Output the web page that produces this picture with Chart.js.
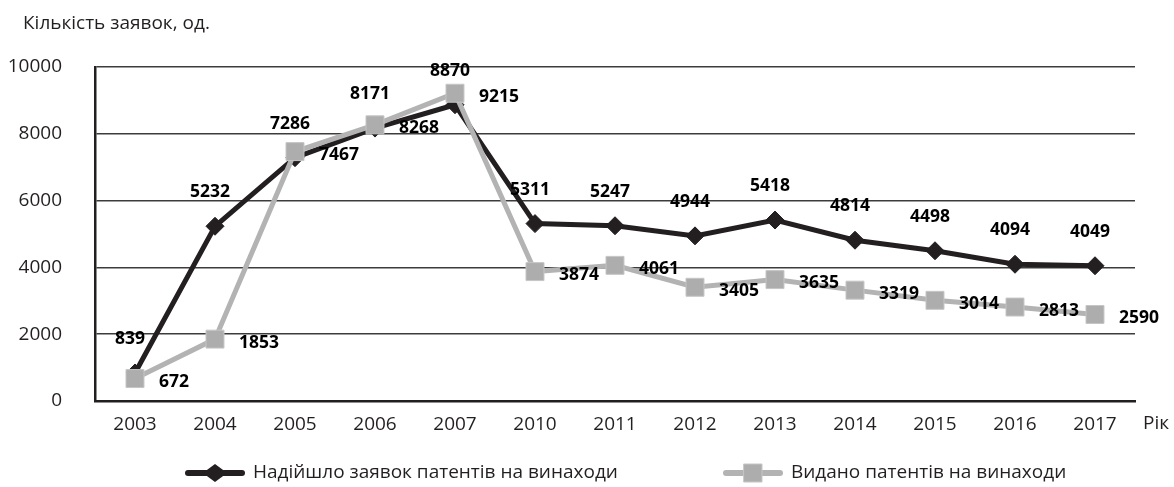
<!DOCTYPE html>
<html><head><meta charset="utf-8">
<script src="https://cdn.jsdelivr.net/npm/chart.js@4.4.0/dist/chart.umd.min.js"></script>
<style>html,body{margin:0;padding:0;background:#fff;} #wrap{width:1174px;height:487px;position:relative;}</style>
</head><body><div id="wrap"><canvas id="c"></canvas></div>
<script>
// ---- data ----
const years = ['2003','2004','2005','2006','2007','2010','2011','2012','2013','2014','2015','2016','2017'];
const applied = [839, 5232, 7286, 8171, 8870, 5311, 5247, 4944, 5418, 4814, 4498, 4094, 4049];
const granted = [672, 1853, 7467, 8268, 9215, 3874, 4061, 3405, 3635, 3319, 3014, 2813, 2590];
const yMin = 0, yMax = 10000, yStep = 2000;
const yAxisTitle = 'Кількість заявок, од.';
const xAxisTitle = 'Рік';
const seriesNames = ['Надійшло заявок патентів на винаходи', 'Видано патентів на винаходи'];

// ---- styles ----
const FONT = "'Open Sans', sans-serif";
const TEXT = '#231f20';
const BLACK = '#231f20';
const GREY = '#b3b3b3';

const labelPlugin = {
  id: 'valueLabels',
  afterDatasetsDraw(chart) {
    const ctx = chart.ctx;
    ctx.save();
    ctx.font = `bold 17.5px ${FONT}`;
    ctx.fillStyle = '#000';
    ctx.textBaseline = 'middle';
    chart.data.datasets.forEach((ds, i) => {
      const meta = chart.getDatasetMeta(i);
      const o = ds.labelOffset;
      ctx.textAlign = o.align;
      meta.data.forEach((pt, j) => {
        ctx.fillText(String(ds.data[j]), pt.x + o.dx, pt.y + o.dy);
      });
    });
    ctx.restore();
  }
};

function drawMarker(ctx, style, x, y, r, fill, stroke) {
  ctx.beginPath();
  if (style === 'rectRot') {
    ctx.moveTo(x - r * 1.35, y); ctx.lineTo(x, y - r); ctx.lineTo(x + r * 1.35, y); ctx.lineTo(x, y + r);
  } else {
    ctx.rect(x - r, y - r, 2 * r, 2 * r);
  }
  ctx.closePath();
  ctx.fillStyle = fill; ctx.fill();
  if (stroke) { ctx.strokeStyle = stroke; ctx.lineWidth = 1; ctx.stroke(); }
}

const decoPlugin = {
  id: 'deco',
  afterDraw(chart) {
    const ctx = chart.ctx, ca = chart.chartArea;
    ctx.save();
    ctx.fillStyle = TEXT;
    ctx.textBaseline = 'middle';
    ctx.textAlign = 'left';
    ctx.font = `19px ${FONT}`;
    ctx.fillText(yAxisTitle, 23, 24);
    ctx.font = `19px ${FONT}`;
    ctx.fillText(xAxisTitle, ca.right + 8, ca.bottom + 23);
    // legend
    const ly = 473;
    const starts = [188, 726];
    chart.data.datasets.forEach((ds, i) => {
      const x0 = starts[i], x1 = x0 + 54;
      ctx.strokeStyle = ds.borderColor; ctx.lineWidth = 6; ctx.lineCap = 'round';
      ctx.beginPath(); ctx.moveTo(x0, ly); ctx.lineTo(x1, ly); ctx.stroke();
      if (ds.pointStyle === 'rectRot') drawMarker(ctx, 'rectRot', (x0 + x1) / 2, ly, 9, ds.pointBackgroundColor);
      else drawMarker(ctx, 'rect', (x0 + x1) / 2, ly, 9, ds.pointBackgroundColor, ds.pointBorderColor);
      ctx.fillStyle = TEXT;
      ctx.font = `19px ${FONT}`;
      ctx.fillText(ds.label, x1 + 11, ly);
    });
    ctx.restore();
  }
};

new Chart(document.getElementById('c'), {
  type: 'line',
  data: {
    labels: years,
    datasets: [
      {
        label: seriesNames[0], data: applied,
        borderColor: BLACK, borderWidth: 5, backgroundColor: BLACK,
        pointStyle: 'rectRot', pointRadius: 9, pointBackgroundColor: BLACK, pointBorderColor: BLACK, pointBorderWidth: 1,
        tension: 0, order: 1,
        labelOffset: { dx: -5, dy: -34, align: 'center' }
      },
      {
        label: seriesNames[1], data: granted,
        borderColor: GREY, borderWidth: 5, backgroundColor: GREY,
        pointStyle: 'rect', pointRadius: 12.7, pointBackgroundColor: '#adadad', pointBorderColor: '#c6c6c6', pointBorderWidth: 1,
        tension: 0, order: 0,
        labelOffset: { dx: 24, dy: 3.5, align: 'left' }
      }
    ]
  },
  options: {
    responsive: true, maintainAspectRatio: false,
    animation: false, events: [],
    layout: { padding: { left: 0, top: 67, right: 39, bottom: 52 } },
    plugins: { legend: { display: false }, tooltip: { enabled: false } },
    scales: {
      x: {
        offset: true,
        grid: { display: false, drawTicks: false },
        border: { display: true, color: BLACK, width: 2.5 },
        ticks: { color: TEXT, font: { family: FONT, size: 19 }, padding: 12, maxRotation: 0, autoSkip: false },
        afterFit(s) { s.height = 34; }
      },
      y: {
        min: yMin, max: yMax,
        grid: { color: '#3c3c3c', lineWidth: 1.5, drawTicks: false },
        border: { display: true, color: BLACK, width: 2.5 },
        ticks: { stepSize: yStep, color: TEXT, font: { family: FONT, size: 19 }, padding: 33, callback: v => String(v) },
        afterFit(s) { s.width = 95; }
      }
    }
  },
  plugins: [labelPlugin, decoPlugin]
});
</script>
</body></html>
